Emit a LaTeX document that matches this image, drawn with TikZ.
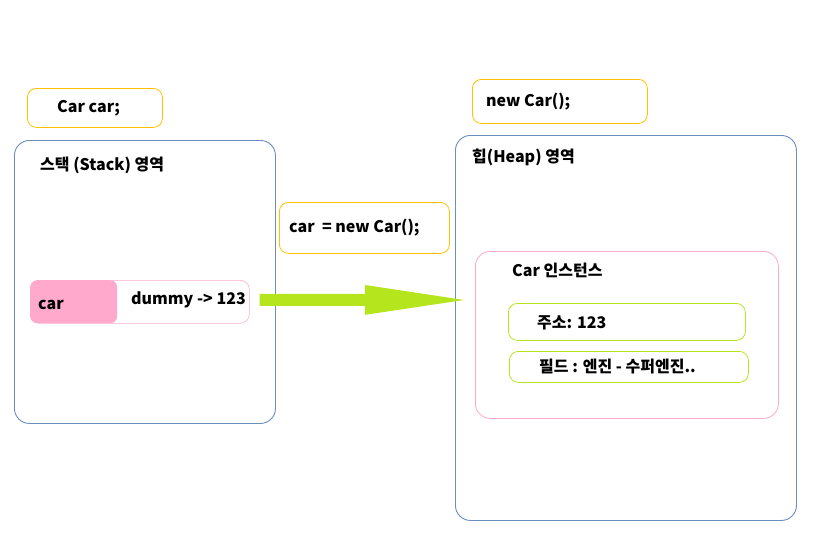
\documentclass[tikz,border=0pt]{standalone}
\usepackage{fontspec}
\setmainfont{Noto Sans CJK KR}
\usetikzlibrary{arrows.meta}
\definecolor{memblue}{HTML}{6C8EBF}
\definecolor{codeyellow}{HTML}{FFC000}
\definecolor{refpink}{HTML}{FFAACC}
\definecolor{ptrgreen}{HTML}{B5E61D}
\tikzstyle{area}=[draw=memblue, rounded corners=15pt, line width=0.9pt, anchor=north west]
\tikzstyle{codebox}=[draw=codeyellow, rounded corners=9pt, line width=0.8pt, anchor=north west]
\tikzstyle{fieldbox}=[draw=ptrgreen, rounded corners=9pt, line width=0.8pt, anchor=north west]
\tikzstyle{txt}=[anchor=west, inner sep=0pt, font=\fontsize{16}{19}\selectfont\bfseries]

\begin{document}
\begin{tikzpicture}[x=1pt, y=-1pt]
\useasboundingbox (0,0) rectangle (823,541);

% code lines
\node[codebox, minimum width=135, minimum height=39] (decl) at (27,88) {};
\node[txt] at ([xshift=30]decl.west) {Car car;};
\node[codebox, minimum width=170, minimum height=51] (assign) at (279,202) {};
\node[txt] at ([xshift=10]assign.west) {car\ \ = new Car();};
\node[codebox, minimum width=175, minimum height=44] (create) at (472,79) {};
\node[txt] at ([xshift=14]create.west) {new Car();};

% stack
\node[area, minimum width=261, minimum height=283] (stack) at (14,140) {};
\node[txt] (stacktitle) at (40,165) {스택 (Stack) 영역};
\node[draw=refpink, rounded corners=9pt, line width=0.6pt, anchor=north west,
      minimum width=219, minimum height=43] (carvar) at (30,280) {};
\node[fill=refpink, rounded corners=7pt, anchor=north west,
      minimum width=87, minimum height=43] (carname) at (30,280) {};
\node[txt] at ([xshift=8, yshift=-3]carname.west) {car};
\node[txt] (carval) at (131,300) {dummy -> 123};

% heap
\node[area, minimum width=341, minimum height=385] (heap) at (455,135) {};
\node[txt] (heaptitle) at (472,157) {힙(Heap) 영역};
\node[draw=refpink, rounded corners=15pt, line width=0.8pt, anchor=north west,
      minimum width=303, minimum height=167] (inst) at (475,251) {};
\node[txt] (insttitle) at (512,270) {Car 인스턴스};
\node[fieldbox, minimum width=237, minimum height=37] (addr) at (508,303) {};
\node[txt] at ([xshift=29, yshift=-1]addr.west) {주소: 123};
\node[fieldbox, minimum width=239, minimum height=31] (field) at (509,351) {};
\node[txt] at ([xshift=30]field.west) {필드 : 엔진 - 수퍼엔진..};

% reference
\draw[draw=ptrgreen, line width=12pt, -{Triangle[length=110pt, width=26pt]}]
  ([xshift=10, yshift=2]carvar.east) -- ([xshift=20]heap.west |- carval);
\end{tikzpicture}
\end{document}
